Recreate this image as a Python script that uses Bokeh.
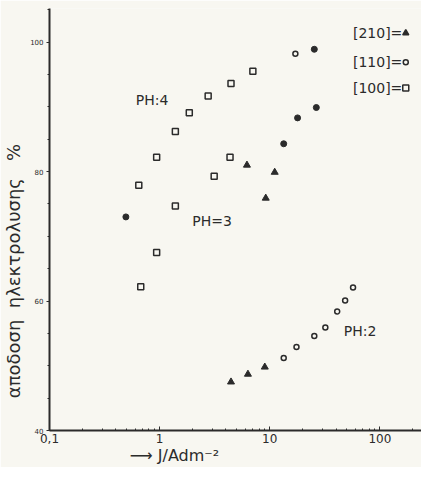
from bokeh.plotting import figure
from bokeh.models import FixedTicker, Range1d
from bokeh.core.properties import value
from bokeh.embed import file_html
from bokeh.resources import INLINE

# ---- data ----
# pH 4
ph4_100_x = [0.647, 0.94, 1.39, 1.86, 2.76, 4.45, 7.03]
ph4_100_y = [77.9, 82.2, 86.2, 89.1, 91.7, 93.6, 95.5]
ph4_110_x = [17.1]
ph4_110_y = [98.2]
ph4_110f_x = [25.4]
ph4_110f_y = [98.9]
# pH 3
ph3_100_x = [0.674, 0.94, 1.39, 3.13, 4.36]
ph3_100_y = [62.2, 67.5, 74.7, 79.3, 82.2]
ph3_210_x = [6.21, 9.2, 11.1]
ph3_210_y = [81.0, 75.9, 79.9]
ph3_110f_x = [0.494, 13.4, 17.9, 26.5]
ph3_110f_y = [73.0, 84.3, 88.3, 89.9]
# pH 2
ph2_210_x = [4.45, 6.34, 9.02]
ph2_210_y = [47.5, 48.7, 49.8]
ph2_110_x = [13.4, 17.5, 25.4, 32.0, 41.0, 48.4, 57.1]
ph2_110_y = [51.2, 52.9, 54.6, 55.9, 58.4, 60.1, 62.1]

x_ticks = [0.1, 1, 10, 100]
x_tick_labels = ["0,1", "1", "10", "100"]
y_ticks = [40, 60, 80, 100]
legend_labels = ["[210]=", "[110]=", "[100]="]
legend_markers = ["triangle", "circle", "square"]

INK = "#2b2b2b"
PAPER = "#f8f7f1"
FONT = "DejaVu Sans"
NB = "\u00a0"

p = figure(width=421, height=467, x_axis_type="log",
           x_range=Range1d(0.1, 239), y_range=Range1d(40, 105.2),
           output_backend="svg", toolbar_location=None,
           min_border_left=46, min_border_right=0, min_border_top=8,
           min_border_bottom=34)
p.background_fill_color = PAPER
p.border_fill_color = PAPER
p.outline_line_color = None
p.grid.visible = False

# axes
p.xaxis.ticker = FixedTicker(ticks=x_ticks,
                             minor_ticks=[m * d for d in [0.1, 1, 10, 100] for m in range(2, 10)])
p.xaxis.major_label_overrides = dict(zip(x_ticks, x_tick_labels))
p.yaxis.ticker = FixedTicker(ticks=y_ticks, minor_ticks=list(range(40, 106, 5)))
for ax in (p.xaxis, p.yaxis):
    ax.axis_line_color = INK
    ax.axis_line_width = 2
    ax.major_tick_line_color = INK
    ax.minor_tick_line_color = INK
    ax.major_label_text_color = INK
    ax.major_label_text_font = FONT
    ax.axis_label_text_color = INK
    ax.axis_label_text_font = FONT
    ax.axis_label_text_font_style = "normal"
p.xaxis.major_tick_in = 4
p.xaxis.major_tick_out = 0
p.xaxis.minor_tick_in = 2
p.xaxis.minor_tick_out = 0
p.xaxis.major_label_text_font_size = "12px"
p.xaxis.major_label_standoff = 3
# trailing no-break spaces shift the hand-placed title left of the axis centre
p.xaxis.axis_label = "⟶  J/Adm⁻²" + NB * 23
p.xaxis.axis_label_text_font_size = "16px"
p.xaxis.axis_label_standoff = 0

p.yaxis.major_tick_in = 0
p.yaxis.major_tick_out = 3
p.yaxis.minor_tick_in = 0
p.yaxis.minor_tick_out = 2
p.yaxis.major_label_text_font_size = "7px"
p.yaxis.major_label_standoff = 3
p.yaxis.axis_label = "αποδοση" + NB * 2 + "ηλεκτρολυσης" + NB * 3 + "%" + NB * 18
p.yaxis.axis_label_text_font_size = "18px"
p.yaxis.axis_label_standoff = 3

# markers
def squares(x, y):
    p.scatter(x, y, marker="square", size=6, fill_color=None, line_color=INK, line_width=1.5)

def circles(x, y):
    p.scatter(x, y, marker="circle", size=5, fill_color=None, line_color=INK, line_width=1.5)

def dots(x, y):
    p.scatter(x, y, marker="circle", size=6, fill_color=INK, line_color=INK)

def tris(x, y):
    p.scatter(x, y, marker="triangle", size=7, fill_color=INK, line_color=INK)

squares(ph4_100_x, ph4_100_y)
circles(ph4_110_x, ph4_110_y)
dots(ph4_110f_x, ph4_110f_y)
squares(ph3_100_x, ph3_100_y)
tris(ph3_210_x, ph3_210_y)
dots(ph3_110f_x, ph3_110f_y)
tris(ph2_210_x, ph2_210_y)
circles(ph2_110_x, ph2_110_y)

# series annotations
p.text(x=[0.608], y=[91.1], text=["PH:4"], text_font=value(FONT), text_font_size="14px",
       text_color=INK, text_baseline="middle")
p.text(x=[1.98], y=[72.4], text=["PH=3"], text_font=value(FONT), text_font_size="14px",
       text_color=INK, text_baseline="middle")
p.text(x=[47.0], y=[55.3], text=["PH:2"], text_font=value(FONT), text_font_size="14px",
       text_color=INK, text_baseline="middle")

# legend (hand-drawn key, glyph to the right of the label)
leg_y = [101.4, 96.9, 92.9]
p.text(x=[57] * 3, y=leg_y, text=legend_labels, text_font=value(FONT), text_font_size="14px",
       text_color=INK, text_baseline="middle")
p.scatter(x=[172] * 3, y=leg_y, marker=legend_markers, size=[6, 5, 6],
          fill_color=[INK, None, None], line_color=INK, line_width=1.5)

open("out.html", "w").write(file_html(p, INLINE))
